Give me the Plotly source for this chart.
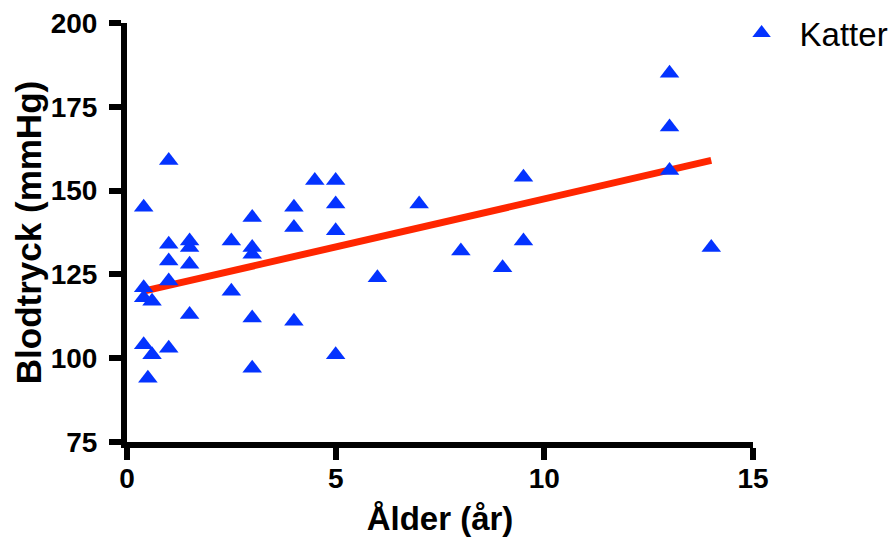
import plotly.graph_objects as go

# Data
age = [0.4, 0.4, 0.4, 0.4, 0.5, 0.6, 0.6,
       1, 1, 1, 1, 1,
       1.5, 1.5, 1.5, 1.5,
       2.5, 2.5,
       3, 3, 3, 3, 3,
       4, 4, 4, 4.5,
       5, 5, 5, 5,
       6, 7, 8, 9, 9.5, 9.5,
       13, 13, 13, 14]
pressure = [145, 121, 118, 104, 94, 117, 101,
            159, 134, 129, 123, 103,
            135, 133, 128, 113,
            135, 120,
            142, 133, 131, 112, 97,
            145, 139, 111, 153,
            153, 146, 138, 101,
            124, 146, 132, 127, 154, 135,
            185, 169, 156, 133]

fit_x = [0.4, 14]
fit_y = [120, 159]

x_ticks = [0, 5, 10, 15]
y_ticks = [75, 100, 125, 150, 175, 200]

FONT = "Liberation Sans"
BLUE = "#0433FF"
RED = "#FF2600"

fig = go.Figure()
fig.add_trace(go.Scatter(
    x=fit_x, y=fit_y, mode="lines",
    line=dict(color=RED, width=7),
    showlegend=False, hoverinfo="skip"))
fig.add_trace(go.Scatter(
    x=age, y=pressure, mode="markers", name="Katter",
    marker=dict(symbol="triangle-up", size=17, color=BLUE,
                line=dict(width=0))))

axis_common = dict(
    showline=True, linecolor="black", linewidth=6,
    ticks="outside", ticklen=12, tickwidth=6, tickcolor="black",
    showgrid=False, zeroline=False,
    tickfont=dict(family=FONT, size=28, color="black", weight="bold"),
)

fig.update_xaxes(range=[0, 15], tickvals=x_ticks, ticklabelstandoff=-6,
                 title=dict(text="Ålder (år)", standoff=16,
                            font=dict(family=FONT, size=33, color="black", weight="bold")),
                 **axis_common)
fig.update_yaxes(range=[75, 200], tickvals=y_ticks, ticklabelstandoff=6,
                 title=dict(text="Blodtryck (mmHg)", standoff=0,
                            font=dict(family=FONT, size=35, color="black", weight="bold")),
                 **axis_common)

fig.update_layout(
    width=895, height=542,
    margin=dict(l=127, r=142, t=23, b=100, autoexpand=False),
    plot_bgcolor="white", paper_bgcolor="white",
    font=dict(family=FONT, color="black"),
    legend=dict(x=0.953, y=1.043, xanchor="left", yanchor="top",
                itemwidth=66, font=dict(family=FONT, size=33, color="black"),
                bgcolor="rgba(0,0,0,0)"),
)

fig.write_html("out.html",
               config={"displayModeBar": False},
               post_script="document.body.style.margin='0';document.body.style.overflow='hidden';")
